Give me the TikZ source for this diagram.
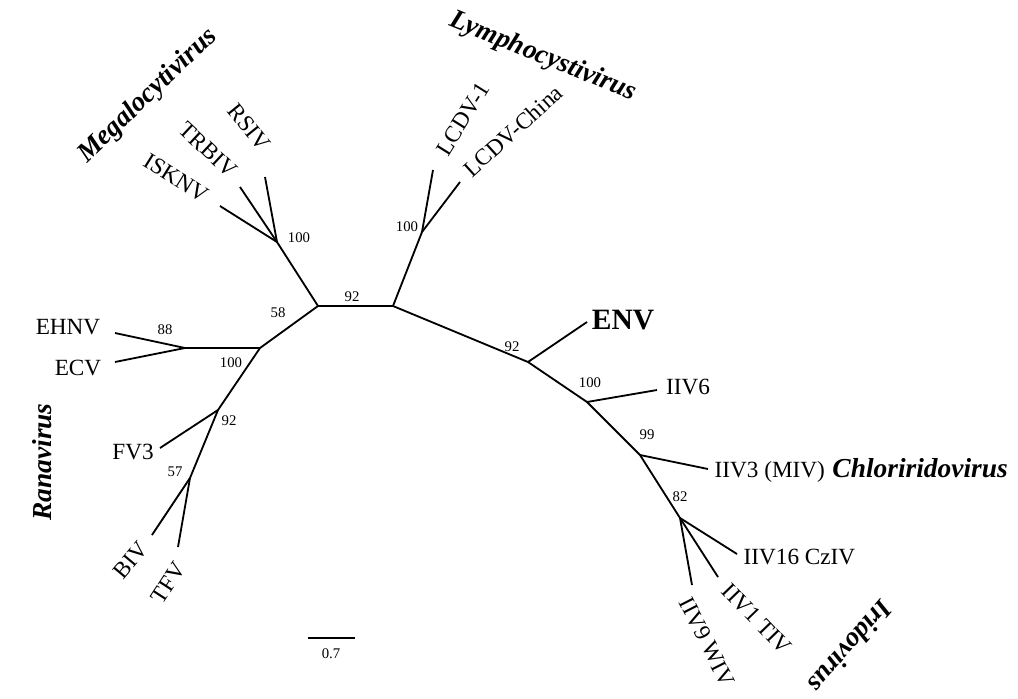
\documentclass[tikz,border=0pt]{standalone}
\usepackage{fontspec}
\setmainfont{Liberation Serif}
\tikzset{
  branch/.style={line width=1.3pt},
  taxon/.style={font=\fontsize{16.5}{16.5}\selectfont, inner sep=1pt},
  genus/.style={font=\fontsize{19.5}{19.5}\selectfont\bfseries\itshape, inner sep=1pt},
  boot/.style={font=\fontsize{10.5}{10.5}\selectfont, inner sep=1pt},
}

\begin{document}
\begin{tikzpicture}[x=0.025cm, y=-0.025cm]
    \useasboundingbox (0,0) rectangle (1018,698);
    \coordinate (A) at (318,306);
    \coordinate (B) at (393,306);
    \coordinate (Mg) at (277,242);
    \coordinate (Ra) at (260,348);
    \coordinate (Eh) at (185,348);
    \coordinate (Fv) at (218,410);
    \coordinate (Bi) at (190,478);
    \coordinate (Ly) at (422,232);
    \coordinate (N1) at (528,362);
    \coordinate (N2) at (587,402);
    \coordinate (N3) at (640,455);
    \coordinate (N4) at (680,518);
    \coordinate (isknv) at (220,206);
    \coordinate (trbiv) at (240,187);
    \coordinate (rsiv) at (265,177);
    \coordinate (ehnv) at (115,333);
    \coordinate (ecv) at (115,362);
    \coordinate (fv3) at (160,448);
    \coordinate (biv) at (152,535);
    \coordinate (tfv) at (178,547);
    \coordinate (lcdv1) at (433,170);
    \coordinate (lcdvc) at (460,182);
    \coordinate (env) at (587,322);
    \coordinate (iiv6) at (657,390);
    \coordinate (iiv3) at (708,469);
    \coordinate (iiv16) at (737,554);
    \coordinate (iiv1) at (718,577);
    \coordinate (iiv9) at (692,585);

    \path[draw, branch] (A) -- (B);
    \path[draw, branch] (A) -- (Mg);
    \path[draw, branch] (Mg) -- (isknv);
    \path[draw, branch] (Mg) -- (trbiv);
    \path[draw, branch] (Mg) -- (rsiv);
    \path[draw, branch] (A) -- (Ra);
    \path[draw, branch] (Ra) -- (Eh);
    \path[draw, branch] (Eh) -- (ehnv);
    \path[draw, branch] (Eh) -- (ecv);
    \path[draw, branch] (Ra) -- (Fv);
    \path[draw, branch] (Fv) -- (fv3);
    \path[draw, branch] (Fv) -- (Bi);
    \path[draw, branch] (Bi) -- (biv);
    \path[draw, branch] (Bi) -- (tfv);
    \path[draw, branch] (B) -- (Ly);
    \path[draw, branch] (Ly) -- (lcdv1);
    \path[draw, branch] (Ly) -- (lcdvc);
    \path[draw, branch] (B) -- (N1);
    \path[draw, branch] (N1) -- (env);
    \path[draw, branch] (N1) -- (N2);
    \path[draw, branch] (N2) -- (iiv6);
    \path[draw, branch] (N2) -- (N3);
    \path[draw, branch] (N3) -- (iiv3);
    \path[draw, branch] (N3) -- (N4);
    \path[draw, branch] (N4) -- (iiv16);
    \path[draw, branch] (N4) -- (iiv1);
    \path[draw, branch] (N4) -- (iiv9);

    \node[taxon, rotate=-32] (ISKNV) at (176,178) {ISKNV};
    \node[taxon, rotate=-43] (TRBIV) at (208,150) {TRBIV};
    \node[taxon, rotate=-51] (RSIV) at (249,127) {RSIV};
    \node[genus, rotate=44] (Mega) at (148,96) {Megalocytivirus};
    \node[taxon, rotate=58] (LCDV1) at (463,119) {LCDV-1};
    \node[taxon, rotate=42] (LCDVC) at (513,131) {LCDV-China};
    \node[genus, rotate=-22] (Lymph) at (543,57) {Lymphocystivirus};
    \node[taxon] (EHNV) at (68,327) {EHNV};
    \node[taxon] (ECV) at (78,368) {ECV};
    \node[taxon] (FV3) at (133,452) {FV3};
    \node[taxon, rotate=50] (BIV) at (131,560) {BIV};
    \node[taxon, rotate=57] (TFV) at (168,583) {TFV};
    \node[genus, rotate=90] (Rana) at (42,462) {Ranavirus};
    \node[font=\fontsize{21}{21}\selectfont\bfseries, inner sep=1pt] (ENV) at (623,320) {ENV};
    \node[taxon] (IIV6) at (688,387) {IIV6};
    \node[taxon, anchor=west] (IIV3) at (713,472) {IIV3 (MIV)};
    \node[genus, anchor=base west] (Chlor) at ([xshift=3pt]IIV3.base east) {Chloriridovirus};
    \node[taxon, anchor=west] (IIV16) at (742,557) {IIV16 CzIV};
    \node[taxon, rotate=-46] (IIV1) at (757,619) {IIV1 TIV};
    \node[taxon, rotate=-63] (IIV9) at (707,642) {IIV9 WIV};
    \node[genus, rotate=-131] (Irido) at (851,647) {Iridovirus};

    \node[boot] (bAB) at (352,297) {92};
    \node[boot] (bMg) at (299,238) {100};
    \node[boot] (bA) at (278,313) {58};
    \node[boot] (bEh) at (165,330) {88};
    \node[boot] (bRa) at (231,363) {100};
    \node[boot] (bFv) at (229,421) {92};
    \node[boot] (bBi) at (175,472) {57};
    \node[boot] (bLy) at (407,227) {100};
    \node[boot] (bN1) at (512,347) {92};
    \node[boot] (bN2) at (590,383) {100};
    \node[boot] (bN3) at (647,435) {99};
    \node[boot] (bN4) at (680,497) {82};

    \coordinate (s1) at (308,638);
    \coordinate (s2) at (355,638);
    \path[draw, branch] (s1) -- (s2);
    \node[boot] (scale) at (331,654) {0.7};
\end{tikzpicture}
\end{document}
